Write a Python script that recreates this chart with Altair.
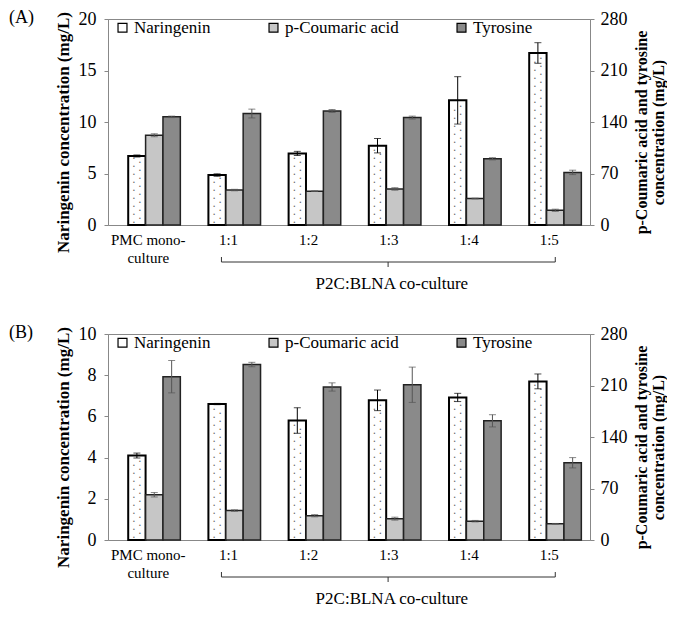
import altair as alt
import pandas as pd

categories = ["PMC mono-culture", "1:1", "1:2", "1:3", "1:4", "1:5"]
category_labels = ["PMC mono-|culture", "1:1", "1:2", "1:3", "1:4", "1:5"]
series = ["Naringenin", "p-Coumaric acid", "Tyrosine"]
fills = ["#ffffff", "#c6c6c6", "#8a8a8a"]
panel_tags = ["(A)", "(B)"]
group_label = "P2C:BLNA co-culture"

# Panel A (naringenin on left axis, the others on right axis)
a_nar = [6.7, 4.85, 6.95, 7.7, 12.1, 16.7]
a_nar_err = [0.1, 0.12, 0.2, 0.7, 2.3, 1.0]
a_cou = [122, 47.5, 46, 49, 36, 20]
a_cou_err = [2, 1, 0.5, 1.7, 0.5, 1.5]
a_tyr = [147, 151.5, 155, 146, 90, 71.5]
a_tyr_err = [1, 6, 2, 2, 1.5, 3]

# Panel B
b_nar = [4.1, 6.6, 5.8, 6.78, 6.92, 7.7]
b_nar_err = [0.12, 0.03, 0.62, 0.5, 0.2, 0.36]
b_cou = [61.5, 40, 33, 29, 25.6, 22]
b_cou_err = [3, 1, 1.5, 2, 1, 0.5]
b_tyr = [222, 238.5, 208, 211, 162, 105]
b_tyr_err = [22, 3, 5.6, 24, 8.3, 7]

FONT = "Liberation Serif, Times New Roman, serif"
W, H = 482, 206
RIGHT_MAX = 280


def panel(tag, nar, nar_err, cou, cou_err, tyr, tyr_err, left_max, left_step):
    rows = []
    for i, c in enumerate(categories):
        for s, v, e in ((series[0], nar, nar_err), (series[1], cou, cou_err), (series[2], tyr, tyr_err)):
            rows.append(dict(category=c, series=s, value=v[i], lo=v[i] - e[i], hi=v[i] + e[i]))
    df = pd.DataFrame(rows)
    left = df[df.series == series[0]]
    right = df[df.series != series[0]]

    xscale = alt.Scale(domain=categories, paddingInner=0.35, paddingOuter=0.18, align=0.7)
    x_ax = alt.X("category:N", scale=xscale, axis=None)
    xoff = alt.XOffset("series:N", scale=alt.Scale(domain=series))
    lscale = alt.Scale(domain=[0, left_max], nice=False)
    rscale = alt.Scale(domain=[0, RIGHT_MAX], nice=False)
    cscale = alt.Scale(domain=series, range=fills)
    legend = alt.Legend(title=None, orient="none", legendX=6, legendY=0, direction="horizontal",
                        symbolType="square", symbolSize=80, symbolStrokeColor="black",
                        symbolStrokeWidth=1.2, labelFont=FONT, labelFontSize=17, labelColor="black",
                        columnPadding=54, labelOffset=3, padding=0, offset=0)

    bars_l = alt.Chart(left).mark_bar(stroke="black", strokeWidth=2).encode(
        x=x_ax, xOffset=xoff,
        y=alt.Y("value:Q", scale=lscale,
                axis=alt.Axis(title="Naringenin concentration (mg/L)", orient="left",
                              values=list(range(0, left_max + 1, left_step)),
                              titleY=round(H * 0.55), titlePadding=6, labelPadding=8)),
        color=alt.Color("series:N", scale=cscale, legend=legend),
    )
    err_l = alt.Chart(left).mark_rule(color="black", strokeWidth=1).encode(
        x=x_ax, xOffset=xoff, y=alt.Y("lo:Q", scale=lscale, axis=None), y2="hi:Q")
    cap_l_hi = alt.Chart(left).mark_tick(color="black", size=7, thickness=1).encode(
        x=x_ax, xOffset=xoff, y=alt.Y("hi:Q", scale=lscale, axis=None))
    cap_l_lo = alt.Chart(left).mark_tick(color="black", size=7, thickness=1).encode(
        x=x_ax, xOffset=xoff, y=alt.Y("lo:Q", scale=lscale, axis=None))

    # dotted fill pattern of the naringenin bars, derived from the bar values
    step = left_max * 4.0 / H
    dots = []
    for i, c in enumerate(categories):
        k = 0
        while step * (k + 0.8) < nar[i] - step * 0.4:
            dots.append(dict(category=c, series=series[0], value=step * (k + 0.8), col=k % 2))
            k += 1
    ddf = pd.DataFrame(dots)
    dots_a = alt.Chart(ddf[ddf.col == 0]).mark_text(text="\u2022", fontSize=5, color="#666", dx=-3,
                                                     baseline="middle").encode(
        x=x_ax, xOffset=xoff, y=alt.Y("value:Q", scale=lscale, axis=None))
    dots_b = alt.Chart(ddf[ddf.col == 1]).mark_text(text="\u2022", fontSize=5, color="#666", dx=3,
                                                     baseline="middle").encode(
        x=x_ax, xOffset=xoff, y=alt.Y("value:Q", scale=lscale, axis=None))

    bars_r = alt.Chart(right).mark_bar(stroke="#222", strokeWidth=1.5).encode(
        x=x_ax, xOffset=xoff,
        y=alt.Y("value:Q", scale=rscale,
                axis=alt.Axis(title=["p-Coumaric acid and tyrosine", "concentration (mg/L)"],
                              orient="right", values=[0, 70, 140, 210, 280], titleAngle=270,
                              titleY=round(H * 0.53) + 4, titleBaseline="bottom", titlePadding=5,
                              titleFontSize=16, titleLineHeight=17, labelPadding=6)),
        color=alt.Color("series:N", scale=cscale, legend=legend),
    )
    err_r = alt.Chart(right).mark_rule(color="#555", strokeWidth=1).encode(
        x=x_ax, xOffset=xoff, y=alt.Y("lo:Q", scale=rscale, axis=None), y2="hi:Q")
    cap_r_hi = alt.Chart(right).mark_tick(color="#555", size=7, thickness=1).encode(
        x=x_ax, xOffset=xoff, y=alt.Y("hi:Q", scale=rscale, axis=None))
    cap_r_lo = alt.Chart(right).mark_tick(color="#555", size=7, thickness=1).encode(
        x=x_ax, xOffset=xoff, y=alt.Y("lo:Q", scale=rscale, axis=None))

    # category labels under the axis
    ldf = pd.DataFrame({"category": categories, "label": category_labels})
    xlab = alt.Chart(ldf).mark_text(font=FONT, fontSize=15, baseline="top", lineBreak="|",
                                    lineHeight=18, color="black", dx=-6).encode(
        x=x_ax, y=alt.value(H + 8), text="label:N")

    bdf = pd.DataFrame({"start": [categories[1]], "end": [categories[-1]],
                        "mid": [categories[3]], "label": [group_label]})
    brace_h = alt.Chart(bdf).mark_rule(color="#333").encode(
        x=alt.X("start:N", scale=xscale, axis=None, bandPosition=0.25),
        x2=alt.X2("end:N", bandPosition=0.5), y=alt.value(H + 37))
    brace_l = alt.Chart(bdf).mark_rule(color="#333").encode(
        x=alt.X("start:N", scale=xscale, axis=None, bandPosition=0.25),
        y=alt.value(H + 32), y2=alt.value(H + 37))
    brace_r = alt.Chart(bdf).mark_rule(color="#333").encode(
        x=alt.X("end:N", scale=xscale, axis=None, bandPosition=0.5),
        y=alt.value(H + 32), y2=alt.value(H + 37))
    brace_m = alt.Chart(bdf).mark_rule(color="#333").encode(
        x=alt.X("mid:N", scale=xscale, axis=None, bandPosition=0.37),
        y=alt.value(H + 37), y2=alt.value(H + 42))
    brace_t = alt.Chart(bdf).mark_text(font=FONT, fontSize=17, baseline="middle", color="black",
                                       dx=-3).encode(
        x=alt.X("mid:N", scale=xscale, axis=None), y=alt.value(H + 59), text="label:N")

    tag_df = pd.DataFrame({"t": [tag]})
    tag_t = alt.Chart(tag_df).mark_text(font=FONT, fontSize=18, align="left", baseline="middle",
                                        color="black").encode(
        x=alt.value(-99), y=alt.value(-1), text="t:N")

    return alt.layer(bars_l, dots_a, dots_b, err_l, cap_l_hi, cap_l_lo,
                     bars_r, err_r, cap_r_hi, cap_r_lo, xlab,
                     brace_h, brace_l, brace_r, brace_m, brace_t, tag_t
                     ).resolve_scale(y="independent").properties(width=W, height=H)


pa = panel(panel_tags[0], a_nar, a_nar_err, a_cou, a_cou_err, a_tyr, a_tyr_err, 20, 5)
pb = panel(panel_tags[1], b_nar, b_nar_err, b_cou, b_cou_err, b_tyr, b_tyr_err, 10, 2)

chart = alt.vconcat(pa, pb, spacing=30).resolve_scale(color="independent").properties(
    padding={"left": 0, "top": 0, "right": 0, "bottom": 0}
).configure_view(stroke="#888", strokeWidth=1).configure_axis(
    labelFont=FONT, labelFontSize=18, labelColor="black",
    titleFont=FONT, titleFontSize=17, titleFontWeight="bold", titleColor="black",
    domainColor="#888", tickColor="#888", tickSize=4, grid=False,
)

chart.save("out.html", embed_options={"renderer": "svg", "actions": False})
